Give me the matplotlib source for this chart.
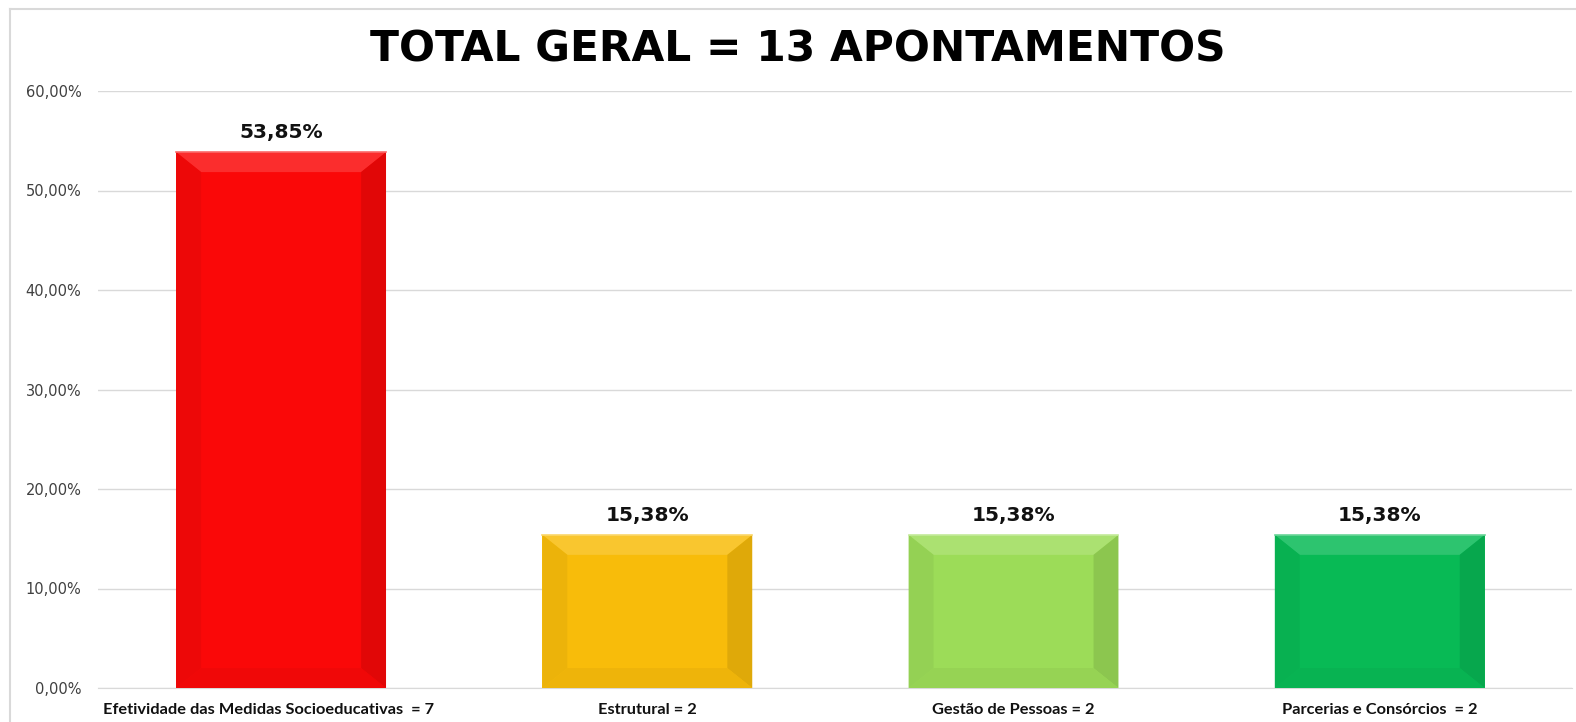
from matplotlib import pyplot as plt
from matplotlib.patches import Polygon
from matplotlib.lines import Line2D
import matplotlib.transforms as mtransforms
import numpy as np

# data
categorias = ['Efetividade das Medidas Socioeducativas  = 7', 'Estrutural = 2',
              'Gestão de Pessoas = 2', 'Parcerias e Consórcios  = 2']
percentuais = [53.85, 15.38, 15.38, 15.38]
rotulos = ['53,85%', '15,38%', '15,38%', '15,38%']
cores = ['#FA0808', '#F8BC0A', '#9CDC58', '#08BA55']
yticks = [0, 10, 20, 30, 40, 50, 60]
ytick_labels = ['0,00%', '10,00%', '20,00%', '30,00%', '40,00%', '50,00%', '60,00%']

fig = plt.figure(figsize=(15.76, 7.22), dpi=100)
ax = fig.add_axes([98/1576, 34/722, (1572-98)/1576, 597/722])

x = np.arange(len(categorias))
largura = 0.573
bars = ax.bar(x, percentuais, width=largura, color=cores, zorder=2)

# simple bevel effect on each bar
def mix(c, w, f):
    c = np.array(plt.matplotlib.colors.to_rgb(c))
    w = np.array(plt.matplotlib.colors.to_rgb(w))
    return tuple(c*(1-f) + w*f)

bx, by = 0.068, 2.0
for b, c in zip(bars, cores):
    x0, x1 = b.get_x(), b.get_x() + b.get_width()
    y1 = b.get_height()
    # top
    ax.add_patch(Polygon([(x0, y1), (x1, y1), (x1-bx, y1-by), (x0+bx, y1-by)],
                         closed=True, color=mix(c, 'white', 0.15), lw=0, zorder=3))
    # left
    ax.add_patch(Polygon([(x0, 0), (x0, y1), (x0+bx, y1-by), (x0+bx, by)],
                         closed=True, color=mix(c, 'black', 0.05), lw=0, zorder=3))
    # right
    ax.add_patch(Polygon([(x1, 0), (x1, y1), (x1-bx, y1-by), (x1-bx, by)],
                         closed=True, color=mix(c, 'black', 0.10), lw=0, zorder=3))
    # bottom
    ax.add_patch(Polygon([(x0, 0), (x1, 0), (x1-bx, by), (x0+bx, by)],
                         closed=True, color=mix(c, 'black', 0.04), lw=0, zorder=3))
    ax.plot([x0, x1], [y1, y1], color=mix(c, 'white', 0.4), lw=1.2, zorder=4)

for xi, v, t in zip(x, percentuais, rotulos):
    ax.annotate(t, (xi, v), xytext=(0, 7), textcoords='offset points',
                ha='center', va='bottom', fontsize=14.5, fontweight='bold',
                family='DejaVu Sans', color='#111111')

ax.set_xlim(-0.5, 3.525)
ax.set_ylim(0, 60)
ax.set_yticks(yticks)
ax.set_yticklabels(ytick_labels, fontsize=10.5, color='#404040')
ax.set_xticks(x)
ax.set_xticklabels(categorias, fontsize=11.8, fontweight='bold', family='Lato', color='#111111')
ax.tick_params(axis='both', length=0)
ax.tick_params(axis='x', pad=11)
ax.tick_params(axis='y', pad=12)
ax.grid(axis='y', color='#D9D9D9', lw=1, zorder=0)
for s in ['top', 'right', 'left']:
    ax.spines[s].set_visible(False)
ax.spines['bottom'].set_color('#D9D9D9')

# first label sits a bit left of its bar in the original
lbl = ax.get_xticklabels()[0]
lbl.set_transform(lbl.get_transform() + mtransforms.ScaledTranslation(-0.13, 0, fig.dpi_scale_trans))

fig.text(798/1576, 1 - 50/722, 'TOTAL GERAL = 13 APONTAMENTOS', ha='center', va='center',
         fontsize=30.5, fontweight='bold', family='DejaVu Sans')

# chart border (left and top)
fig.add_artist(Line2D([10/1576, 10/1576], [0, 1 - 9/722], color='#D9D9D9', lw=1.5))
fig.add_artist(Line2D([10/1576, 1], [1 - 9/722, 1 - 9/722], color='#D9D9D9', lw=1.5))

plt.savefig('out.png', dpi=100)
